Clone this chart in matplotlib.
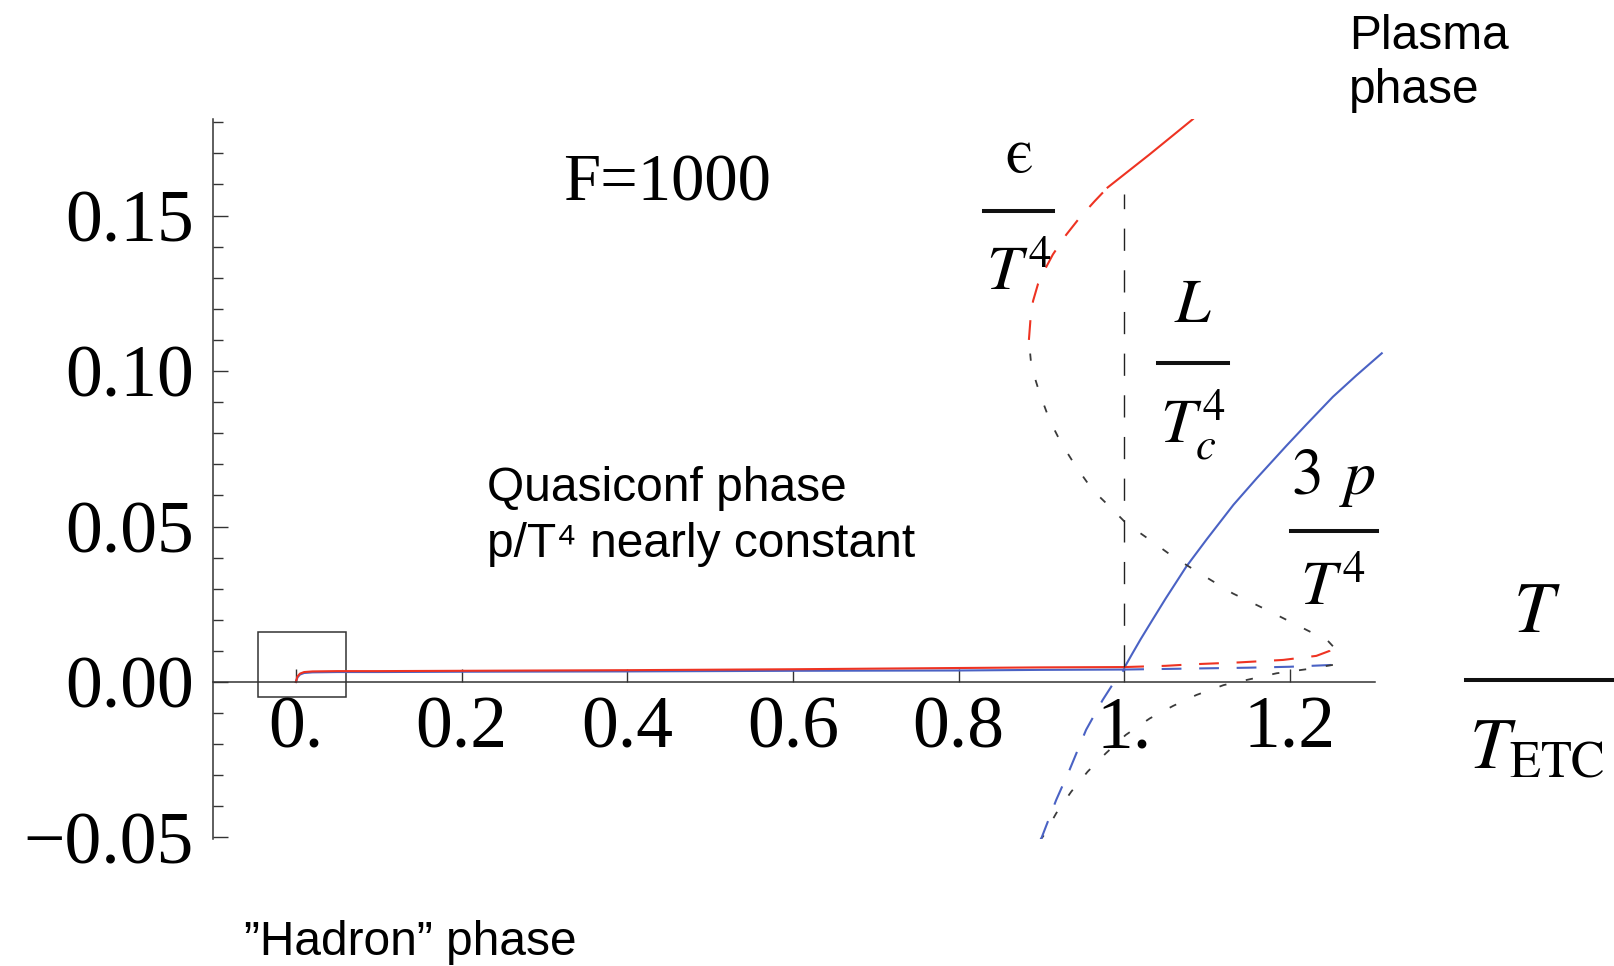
import matplotlib
matplotlib.use("Agg")
import matplotlib.pyplot as plt
from matplotlib.lines import Line2D
from matplotlib.patches import Rectangle
from matplotlib.ticker import MultipleLocator

# ---- data (x = T/T_ETC) ----
# hadron branch, T < Tc (solid)
T_had = [0.0, 0.002, 0.005, 0.01, 0.02, 0.05, 0.1, 0.2, 0.4, 0.6, 0.8, 0.9, 1.0]
eps_had = [0.0, 0.0018, 0.0027, 0.0032, 0.0034, 0.0035, 0.0035, 0.0036, 0.0038, 0.0041, 0.0045, 0.0047, 0.0048]
p3_had = [0.0, 0.0015, 0.0024, 0.0029, 0.0031, 0.0032, 0.0032, 0.0033, 0.0034, 0.0036, 0.0037, 0.0039, 0.0040]

# superheated hadron branch (dashed)
T_eps_sh = [1.0, 1.05, 1.083, 1.139, 1.192, 1.232, 1.248, 1.252]
eps_sh = [0.0048, 0.0052, 0.0057, 0.0063, 0.0071, 0.0084, 0.0100, 0.0115]
T_p3_sh = [1.0, 1.05, 1.1, 1.15, 1.2, 1.252]
p3_sh = [0.0040, 0.0042, 0.0044, 0.0046, 0.0049, 0.0055]

# unstable branch (dotted)
T_eps_un = [1.252, 1.245, 1.228, 1.172, 1.131, 1.091, 1.059, 1.031, 1.0026,
            0.9825, 0.962, 0.942, 0.924, 0.910, 0.898, 0.888, 0.885]
eps_un = [0.0115, 0.0135, 0.0157, 0.0232, 0.0285, 0.035, 0.0403, 0.0457, 0.051,
          0.0564, 0.0617, 0.0692, 0.0768, 0.0842, 0.0928, 0.1014, 0.110]
T_p3_un = [1.252, 1.22, 1.184, 1.152, 1.12, 1.087, 1.059, 1.031, 1.002,
           0.978, 0.956, 0.936, 0.918, 0.902, 0.899]
p3_un = [0.0055, 0.0041, 0.0028, 0.0009, -0.001, -0.0042, -0.0077, -0.0117, -0.017,
         -0.0229, -0.0288, -0.0353, -0.0422, -0.0497, -0.0506]

# supercooled plasma branch (dashed)
T_eps_sc = [0.885, 0.887, 0.890, 0.896, 0.904, 0.914, 0.930, 0.946, 0.964, 0.98]
eps_sc = [0.110, 0.117, 0.1225, 0.1280, 0.1325, 0.1375, 0.1438, 0.1492, 0.1545, 0.1590]
T_p3_sc = [0.899, 0.900, 0.918, 0.934, 0.954, 0.974, 0.988, 1.0]
p3_sc = [-0.0506, -0.0503, -0.0379, -0.0283, -0.0154, -0.0058, 0.0, 0.0040]

# plasma branch (solid)
T_eps_pl = [0.98, 1.0, 1.03, 1.06, 1.083]
eps_pl = [0.159, 0.1632, 0.1695, 0.176, 0.181]
T_p3_pl = [1.0, 1.01, 1.02, 1.034, 1.05, 1.075, 1.1, 1.132, 1.16, 1.196, 1.22, 1.252, 1.28, 1.311]
p3_pl = [0.0045, 0.0092, 0.0138, 0.0199, 0.0268, 0.0371, 0.0460, 0.0570, 0.0655,
         0.0760, 0.0828, 0.0917, 0.0985, 0.1057]

# latent heat marker at Tc
T_c = 1.0
L_lo, L_hi = 0.0048, 0.157

# zoom box around the origin
box_x = (-0.046, 0.0605)
box_y = (-0.0048, 0.0161)

x_ticks = [0.0, 0.2, 0.4, 0.6, 0.8, 1.0, 1.2]
x_labels = ["0.", "0.2", "0.4", "0.6", "0.8", "1.", "1.2"]
y_ticks = [-0.05, 0.0, 0.05, 0.10, 0.15]
y_labels = ["\u22120.05", "0.00", "0.05", "0.10", "0.15"]

RED = "#ee3322"
BLUE = "#4a62c4"
GREY = "#3a3a3a"
SERIF = "Liberation Serif"
SANS = ["Liberation Sans", "DejaVu Sans"]

plt.rcParams["mathtext.fontset"] = "stix"

W, H = 1615, 966
fig = plt.figure(figsize=(W / 100, H / 100), dpi=100)


def fx(px):
    return px / W


def fy(py):
    return 1 - py / H


ax = fig.add_axes([0.1319, 0.1311, 0.7283, 0.7456])
ax.set_xlim(-0.1, 1.32)
ax.set_ylim(-0.0506, 0.181)
ax.patch.set_alpha(0)

for s in ("top", "right"):
    ax.spines[s].set_visible(False)
ax.spines["bottom"].set_position(("data", 0))
ax.spines["bottom"].set_bounds(-0.1, 1.303)
for s in ("bottom", "left"):
    ax.spines[s].set_linewidth(1.1)
    ax.spines[s].set_color("#333333")

ax.set_xticks(x_ticks)
ax.set_xticklabels(x_labels, fontfamily=SERIF, fontsize=53)
ax.set_yticks(y_ticks)
ax.set_yticklabels(y_labels, fontfamily=SERIF, fontsize=53)
ax.yaxis.set_minor_locator(MultipleLocator(0.01))
ax.tick_params(axis="x", direction="in", length=9.5, width=1.0, color="#333333", pad=10)
ax.tick_params(axis="y", which="major", direction="in", length=11, width=1.0,
               color="#333333", pad=13.7)
ax.tick_params(axis="y", which="minor", direction="in", length=7, width=1.0,
               color="#333333")

dash = (0, (9.5, 8.5))
dot = (0, (4, 11))

# 3p/T^4
ax.plot(T_had, p3_had, color=BLUE, lw=1.5)
ax.plot(T_p3_sh, p3_sh, color=BLUE, lw=1.5, ls=dash)
ax.plot(T_p3_un, p3_un, color=GREY, lw=1.3, ls=dot)
ax.plot(T_p3_sc, p3_sc, color=BLUE, lw=1.5, ls=dash)
ax.plot(T_p3_pl, p3_pl, color=BLUE, lw=1.5, clip_on=False)

# eps/T^4
ax.plot(T_had, eps_had, color=RED, lw=1.5)
ax.plot(T_eps_sh, eps_sh, color=RED, lw=1.5, ls=dash)
ax.plot(T_eps_un, eps_un, color=GREY, lw=1.3, ls=dot)
ax.plot(T_eps_sc, eps_sc, color=RED, lw=1.5, ls=dash)
ax.plot(T_eps_pl, eps_pl, color=RED, lw=1.5)

ax.vlines(T_c, L_lo, L_hi, color="#222222", lw=1.0, linestyles=[(0, (16, 14))])

ax.add_patch(Rectangle((box_x[0], box_y[0]), box_x[1] - box_x[0], box_y[1] - box_y[0],
                       fill=False, ec="#333333", lw=1.1, clip_on=False))


def frac(num, den, cx, y_num, y_bar, y_den, x0, x1, size=46):
    fig.text(fx(cx), fy(y_num), num, ha="center", va="center", fontsize=size)
    fig.add_artist(Line2D([fx(x0), fx(x1)], [fy(y_bar)] * 2, transform=fig.transFigure,
                          color="#111111", lw=2.9))
    fig.text(fx(cx), fy(y_den), den, ha="center", va="center", fontsize=size)


frac("$\\mathrm{\u03f5}$", r"$T^4$", 1019, 154, 211, 272, 984, 1053)
frac(r"$L$", r"$T_c^4$", 1193, 304, 363, 424, 1158, 1228)
frac(r"$3\;\,p$", r"$T^4$", 1333, 478, 531, 587, 1291, 1377)
frac(r"$T$", r"$T_{\mathrm{ETC}}$", 1537, 612, 680, 748, 1466, 1615, size=52)

fig.text(fx(667), fy(184), "F=1000", ha="center", va="center", fontfamily=SERIF, fontsize=48)

fig.text(fx(1349), fy(49), "Plasma", fontfamily=SANS, fontsize=34.5, va="baseline")
fig.text(fx(1349), fy(103), "phase", fontfamily=SANS, fontsize=34.5, va="baseline")
fig.text(fx(487), fy(501), "Quasiconf phase", fontfamily=SANS, fontsize=34.5, va="baseline")
fig.text(fx(487), fy(557), "p/T\u2074 nearly constant", fontfamily=SANS, fontsize=34.5,
         va="baseline")
fig.text(fx(244), fy(955), "\u201dHadron\u201d phase", fontfamily=SANS, fontsize=34.5,
         va="baseline")

fig.savefig("out.png", dpi=100)
